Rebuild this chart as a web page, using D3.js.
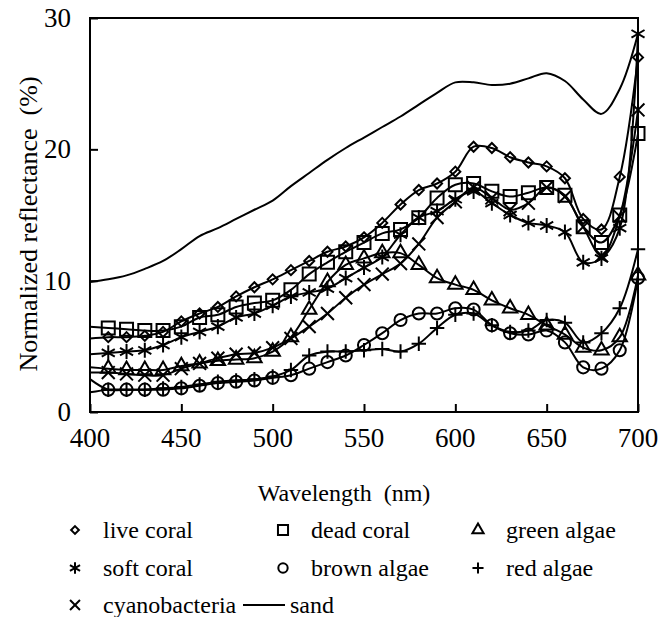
<!DOCTYPE html>
<html lang="en">
<head>
<meta charset="utf-8">
<style>
body { margin: 0; background: #fff; }
text { font-family: "Liberation Serif", "Times New Roman", serif; font-size: 24px; fill: #000; }
.ticklabel { font-size: 27px; }
.ytitle { font-size: 26px; }
.frame { fill: none; stroke: #000; stroke-width: 2px; }
.curve { fill: none; stroke: #000; stroke-width: 2px; }
.mark { fill: none; stroke: #000; stroke-width: 2px; }
</style>
</head>
<body>
<svg width="658" height="617"></svg>

<script src="https://d3js.org/d3.v7.min.js"></script>
<script>

var wavelengths = d3.range(400, 701, 10);

var liveCoral   = [5.6, 5.7, 5.7, 5.8, 6.1, 6.9, 7.5, 8.0, 8.8, 9.5, 10.1, 10.8, 11.5, 12.2, 12.6, 13.3, 14.4, 15.8, 16.9, 17.4, 18.3, 20.2, 20.1, 19.4, 19.0, 18.7, 17.8, 14.7, 13.9, 17.9, 27.0];
var deadCoral   = [6.5, 6.4, 6.3, 6.2, 6.2, 6.5, 7.2, 7.4, 8.0, 8.3, 8.5, 9.3, 10.5, 11.4, 12.2, 12.9, 13.6, 13.9, 14.8, 16.3, 17.3, 17.4, 16.8, 16.4, 16.7, 17.1, 16.5, 14.1, 12.9, 15.0, 21.2];
var greenAlgae  = [3.4, 3.3, 3.2, 3.2, 3.2, 3.5, 3.7, 3.9, 4.0, 4.1, 4.6, 5.7, 7.8, 9.9, 11.2, 11.7, 12.1, 12.1, 11.2, 10.2, 9.7, 9.3, 8.5, 7.9, 7.4, 6.6, 5.9, 4.9, 4.7, 5.7, 10.4];
var softCoral   = [4.4, 4.5, 4.6, 4.7, 5.1, 5.7, 6.1, 6.5, 7.2, 7.5, 8.1, 8.8, 9.1, 9.4, 10.2, 11.0, 11.8, 13.5, 14.8, 15.3, 16.2, 16.8, 15.9, 15.0, 14.4, 14.2, 13.7, 11.4, 11.7, 14.0, 28.8];
var brownAlgae  = [2.5, 1.7, 1.7, 1.7, 1.7, 1.8, 2.0, 2.2, 2.3, 2.4, 2.6, 2.8, 3.3, 3.8, 4.3, 5.1, 6.0, 7.0, 7.5, 7.5, 7.9, 7.8, 6.6, 6.0, 5.9, 6.2, 5.3, 3.4, 3.3, 4.7, 10.2];
var redAlgae    = [1.5, 1.7, 1.7, 1.7, 1.8, 1.9, 2.1, 2.3, 2.4, 2.5, 2.7, 3.2, 4.3, 4.6, 4.6, 4.7, 4.8, 4.6, 5.2, 6.4, 7.4, 7.5, 6.6, 6.1, 6.2, 7.0, 6.8, 5.3, 6.0, 7.9, 12.4];
var cyanobacteria = [3.0, 3.0, 2.9, 2.8, 2.8, 3.3, 3.7, 4.1, 4.4, 4.5, 4.9, 5.6, 6.5, 7.5, 8.7, 9.7, 10.5, 11.3, 12.8, 14.8, 16.0, 17.1, 16.3, 15.4, 15.9, 17.1, 16.4, 14.1, 11.9, 14.9, 23.0];
var sand        = [9.9, 10.1, 10.4, 10.9, 11.5, 12.4, 13.4, 14.0, 14.7, 15.4, 16.1, 17.2, 18.2, 19.2, 20.1, 20.9, 21.7, 22.5, 23.4, 24.3, 25.1, 25.1, 24.9, 25.0, 25.4, 25.8, 25.2, 23.8, 22.7, 24.6, 28.8];

var xTicks = [400, 450, 500, 550, 600, 650, 700];
var yTicks = [0, 10, 20, 30];

var series = [
  {name: "live coral",    values: liveCoral,     symbol: "diamond"},
  {name: "dead coral",    values: deadCoral,     symbol: "square"},
  {name: "green algae",   values: greenAlgae,    symbol: "triangle"},
  {name: "soft coral",    values: softCoral,     symbol: "asterisk"},
  {name: "brown algae",   values: brownAlgae,    symbol: "circle"},
  {name: "red algae",     values: redAlgae,      symbol: "plus"},
  {name: "cyanobacteria", values: cyanobacteria, symbol: "times"},
  {name: "sand",          values: sand,          symbol: null}
];

var symbols = {
  diamond:  {type: d3.symbolDiamond2, size: 64},
  square:   {type: d3.symbolSquare2,  size: 215},
  triangle: {type: d3.symbolTriangle2, size: 150},
  asterisk: {type: d3.symbolAsterisk, size: 160},
  circle:   {type: d3.symbolCircle,   size: 115},
  plus:     {type: d3.symbolPlus,     size: 70},
  times:    {type: d3.symbolTimes,    size: 110}
};

var svg = d3.select("svg");
var plotLeft = 90, plotRight = 638, plotTop = 18, plotBottom = 412;

var x = d3.scaleLinear().domain([400, 700]).range([plotLeft, plotRight]);
var y = d3.scaleLinear().domain([0, 30]).range([plotBottom, plotTop]);

var line = d3.line()
    .x(function(d) { return x(d[0]); })
    .y(function(d) { return y(d[1]); })
    .curve(d3.curveCatmullRom);

// curves
series.forEach(function(s) {
  var pts = wavelengths.map(function(w, i) { return [w, s.values[i]]; });
  svg.append("path")
      .attr("class", "curve")
      .attr("d", line(pts));
});

// markers (every 10 nm from 410)
series.forEach(function(s) {
  if (!s.symbol) return;
  var sym = symbols[s.symbol];
  var gen = d3.symbol().type(sym.type).size(sym.size);
  svg.append("g")
    .selectAll("path")
    .data(wavelengths.slice(1).map(function(w, i) { return [w, s.values[i + 1]]; }))
    .enter().append("path")
      .attr("class", "mark")
      .attr("d", gen)
      .attr("transform", function(d) { return "translate(" + x(d[0]) + "," + y(d[1]) + ")"; });
});

// frame and inward ticks
svg.append("rect")
    .attr("class", "frame")
    .attr("x", plotLeft).attr("y", plotTop)
    .attr("width", plotRight - plotLeft).attr("height", plotBottom - plotTop);

var xAxis = d3.axisTop(x).tickValues(xTicks).tickSize(8).tickFormat("");
svg.append("g")
    .attr("transform", "translate(0," + plotBottom + ")")
    .call(xAxis)
    .call(function(g) { g.select(".domain").remove(); g.selectAll("line").attr("stroke-width", 2); });

var yAxis = d3.axisRight(y).tickValues(yTicks).tickSize(8).tickFormat("");
svg.append("g")
    .attr("transform", "translate(" + plotLeft + ",0)")
    .call(yAxis)
    .call(function(g) { g.select(".domain").remove(); g.selectAll("line").attr("stroke-width", 2); });

// tick labels
svg.append("g").selectAll("text")
    .data(xTicks)
    .enter().append("text")
      .attr("class", "ticklabel")
      .attr("x", function(d) { return x(d); })
      .attr("y", plotBottom + 35)
      .attr("text-anchor", "middle")
      .text(function(d) { return d; });

svg.append("g").selectAll("text")
    .data(yTicks)
    .enter().append("text")
      .attr("class", "ticklabel")
      .attr("x", plotLeft - 19)
      .attr("y", function(d) { return y(d); })
      .attr("dy", "0.33em")
      .attr("text-anchor", "end")
      .text(function(d) { return d; });

// axis titles
svg.append("text")
    .attr("x", 344)
    .attr("y", 501)
    .attr("text-anchor", "middle")
    .text("Wavelength\u00a0\u00a0(nm)");

svg.append("text")
    .attr("class", "ytitle")
    .attr("transform", "translate(28,224) rotate(-90)")
    .attr("text-anchor", "middle")
    .attr("dy", "0.35em")
    .text("Normalized reflectance\u00a0\u00a0(%)");

// legend
var legendPos = [
  [75, 530], [283, 530], [478, 530],
  [75, 568], [283, 568], [478, 568],
  [75, 605]
];
var legend = svg.append("g");
series.forEach(function(s, i) {
  if (!s.symbol) return;
  var p = legendPos[i];
  var sym = symbols[s.symbol];
  legend.append("path")
      .attr("class", "mark")
      .attr("d", d3.symbol().type(sym.type).size(sym.size * 0.6)())
      .attr("transform", "translate(" + p[0] + "," + p[1] + ")");
  legend.append("text")
      .attr("x", p[0] + 28)
      .attr("y", p[1] + 8)
      .text(s.name);
});
legend.append("line")
    .attr("x1", 243).attr("x2", 285)
    .attr("y1", 605).attr("y2", 605)
    .attr("stroke", "#000").attr("stroke-width", 2);
legend.append("text")
    .attr("x", 290)
    .attr("y", 613)
    .text("sand");

</script>
</body>
</html>
